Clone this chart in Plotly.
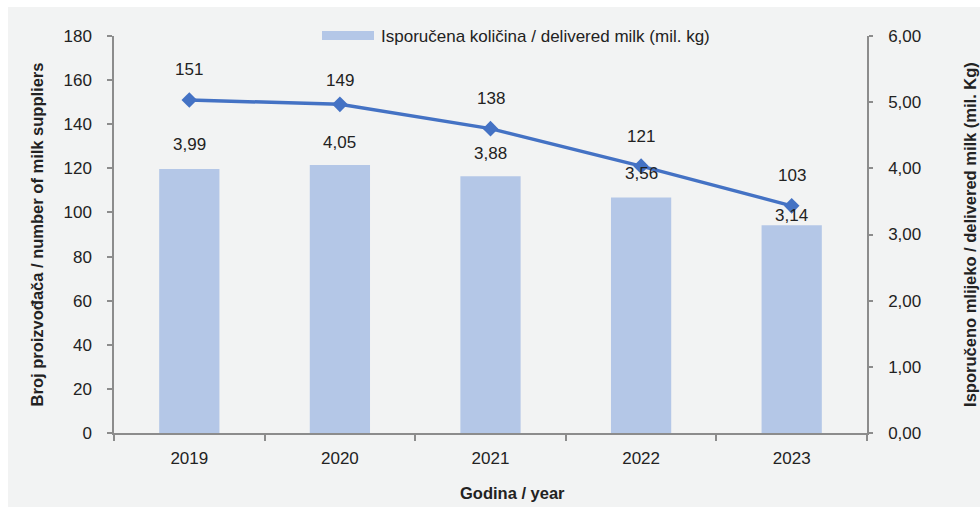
import plotly.graph_objects as go

# Data
years = ["2019", "2020", "2021", "2022", "2023"]
suppliers = [151, 149, 138, 121, 103]           # number of milk suppliers
delivered = [3.99, 4.05, 3.88, 3.56, 3.14]       # delivered milk, mil. kg

# Label offsets (px above each point)
supplier_label_shift = [30, 24, 30, 30, 30]
delivered_label_shift = [24, 23, 23, 24, 10]

FONT = "Liberation Sans, Arial, sans-serif"
BAR_COLOR = "#b4c7e7"
LINE_COLOR = "#4472c4"
AXIS_COLOR = "#8c8c8c"
TEXT_COLOR = "#222222"
BG = "#f2f3f3"
TICK_SIZE = 17
TITLE_SIZE = 16.5

fig = go.Figure()

fig.add_trace(go.Bar(
    x=years, y=delivered, yaxis="y",
    marker=dict(color=BAR_COLOR, line=dict(width=0)),
    width=0.4, name="Isporučena količina / delivered milk (mil. kg)",
    showlegend=False, hoverinfo="x+y",
))

fig.add_trace(go.Scatter(
    x=years, y=suppliers, yaxis="y2", mode="lines+markers",
    line=dict(color=LINE_COLOR, width=3.5),
    marker=dict(symbol="diamond", size=12, color=LINE_COLOR),
    name="Broj proizvođača", showlegend=False,
))

annotations = []
# category positions are addressed by index on the category axis
for i, (v, s) in enumerate(zip(delivered, delivered_label_shift)):
    annotations.append(dict(
        x=i, y=v, xref="x", yref="y", text=f"{v:.2f}".replace(".", ","),
        showarrow=False, yshift=s, font=dict(family=FONT, size=TICK_SIZE, color=TEXT_COLOR),
    ))
for i, (v, s) in enumerate(zip(suppliers, supplier_label_shift)):
    annotations.append(dict(
        x=i, y=v, xref="x", yref="y2", text=str(v),
        showarrow=False, yshift=s, font=dict(family=FONT, size=TICK_SIZE, color=TEXT_COLOR),
    ))

# Legend entry for the bars
annotations.append(dict(
    x=(379 - 114) / 753, y=(433 - 36) / 397, xref="paper", yref="paper",
    xanchor="left", yanchor="middle", showarrow=False,
    text="Isporučena količina / delivered milk (mil. kg)",
    font=dict(family=FONT, size=17, color=TEXT_COLOR),
))
# x-axis title
annotations.append(dict(
    x=(512 - 114) / 753, y=(433 - 493) / 397, xref="paper", yref="paper",
    xanchor="center", yanchor="middle", showarrow=False,
    text="<b>Godina / year</b>",
    font=dict(family=FONT, size=TITLE_SIZE, color=TEXT_COLOR),
))

shapes = [
    # grey panel behind the chart
    dict(type="rect", xref="paper", yref="paper", layer="below",
         x0=(8 - 114) / 753, x1=(990 - 114) / 753,
         y0=(433 - 515) / 397, y1=(433 - 7) / 397,
         fillcolor=BG, line=dict(width=0)),
    # legend swatch
    dict(type="rect", xref="paper", yref="paper",
         x0=(322 - 114) / 753, x1=(374 - 114) / 753,
         y0=(433 - 40) / 397, y1=(433 - 31) / 397,
         fillcolor=BAR_COLOR, line=dict(width=0)),
]

axis_common = dict(
    showgrid=False, zeroline=False, showline=True, linecolor=AXIS_COLOR, linewidth=1.5,
    ticks="outside", tickcolor=AXIS_COLOR, tickwidth=1.5, automargin=False,
    tickfont=dict(family=FONT, size=TICK_SIZE, color=TEXT_COLOR),
)

fig.update_layout(
    width=980, height=507,
    margin=dict(l=114, r=113, t=36, b=74),
    paper_bgcolor="white", plot_bgcolor=BG,
    separators=", ",
    font=dict(family=FONT, color=TEXT_COLOR),
    showlegend=False,
    xaxis=dict(**axis_common, type="category", tickson="boundaries", ticklen=6,
               ticklabelstandoff=9, range=[-0.5, 4.5]),
    yaxis=dict(**axis_common, side="right", range=[0, 6], dtick=1, tickformat=".2f",
               ticklen=4, ticklabelstandoff=12,
               title=dict(text="<b>Isporučeno mlijeko / delivered milk (mil. Kg)</b>",
                          font=dict(family=FONT, size=TITLE_SIZE, color=TEXT_COLOR), standoff=44)),
    yaxis2=dict(**axis_common, side="left", overlaying="y", range=[0, 180], dtick=20,
                ticklen=5, ticklabelstandoff=12,
                title=dict(text="<b>Broj proizvođača / number of milk suppliers</b>",
                           font=dict(family=FONT, size=TITLE_SIZE, color=TEXT_COLOR), standoff=16)),
    annotations=annotations,
    shapes=shapes,
)

fig.write_html("out.html")
